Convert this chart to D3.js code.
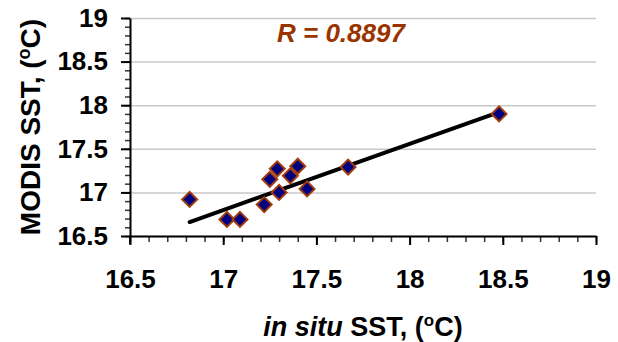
<!DOCTYPE html>
<html>
<head>
<meta charset="utf-8">
<script src="https://cdn.jsdelivr.net/npm/d3@7"></script>
<style>
  html, body { margin: 0; padding: 0; background: #fff; }
  svg { display: block; font-family: "Liberation Sans", Arial, sans-serif; }
</style>
</head>
<body>
<svg id="chart" width="618" height="342"></svg>
<script>
// ---- data ----
const inSitu = [16.82, 17.02, 17.09, 17.22, 17.25, 17.29, 17.30, 17.36, 17.40, 17.45, 17.67, 18.48];
const modis  = [16.92, 16.69, 16.69, 16.86, 17.15, 17.27, 17.00, 17.19, 17.30, 17.04, 17.29, 17.90];
const trendX = [16.82, 18.48];
const trendY = [16.66, 17.92];
const tickLabels = [16.5, 17, 17.5, 18, 18.5, 19];
const rLabel = "R = 0.8897";
const xTitle = ["in situ", " SST, (", "o", "C)"];
const yTitle = ["MODIS SST, (", "o", "C)"];

// ---- layout ----
const svg = d3.select("#chart");
const pLeft = 130, pRight = 596, pTop = 18, pBottom = 236;
const x = d3.scaleLinear().domain([16.5, 19]).range([pLeft, pRight]);
const y = d3.scaleLinear().domain([16.5, 19]).range([pBottom, pTop]);
const minorVals = d3.range(0, 26).map(i => +(16.5 + i * 0.1).toFixed(1));
const fmt = d => String(d);

// gridlines
svg.append("g")
  .attr("transform", `translate(${pLeft},0)`)
  .call(d3.axisLeft(y).tickValues(tickLabels).tickSize(-(pRight - pLeft)).tickFormat(""))
  .call(g => g.select(".domain").remove())
  .call(g => g.selectAll("line").attr("stroke", "#c8c8c8").attr("stroke-width", 1.5));

// minor ticks
svg.append("g")
  .attr("transform", `translate(${pLeft},0)`)
  .call(d3.axisLeft(y).tickValues(minorVals).tickSize(5).tickFormat(""))
  .call(g => g.select(".domain").remove())
  .call(g => g.selectAll("line").attr("stroke", "#333").attr("stroke-width", 1.5));
svg.append("g")
  .attr("transform", `translate(0,${pBottom})`)
  .call(d3.axisBottom(x).tickValues(minorVals).tickSize(6).tickFormat(""))
  .call(g => g.select(".domain").remove())
  .call(g => g.selectAll("line").attr("stroke", "#333").attr("stroke-width", 1.5));

// major axes
const yAxis = svg.append("g")
  .attr("transform", `translate(${pLeft},0)`)
  .call(d3.axisLeft(y).tickValues(tickLabels).tickSize(9).tickSizeOuter(0).tickPadding(13).tickFormat(fmt));
const xAxis = svg.append("g")
  .attr("transform", `translate(0,${pBottom})`)
  .call(d3.axisBottom(x).tickValues(tickLabels).tickSize(9).tickSizeOuter(0).tickPadding(25).tickFormat(fmt));
[yAxis, xAxis].forEach(g => {
  g.select(".domain").attr("stroke", "#000").attr("stroke-width", 2);
  g.selectAll(".tick line").attr("stroke", "#000").attr("stroke-width", 2);
  g.selectAll(".tick text")
    .attr("fill", "#000")
    .style("font-size", "26px")
    .style("font-weight", "bold")
    .style("font-family", "'Liberation Sans', Arial, sans-serif");
});
// left axis extends below the x axis like the original
svg.append("line")
  .attr("x1", pLeft).attr("x2", pLeft)
  .attr("y1", pBottom).attr("y2", pBottom + 8)
  .attr("stroke", "#000").attr("stroke-width", 2);

// trend line
svg.append("line")
  .attr("x1", x(trendX[0])).attr("y1", y(trendY[0]))
  .attr("x2", x(trendX[1])).attr("y2", y(trendY[1]))
  .attr("stroke", "#000").attr("stroke-width", 4)
  .attr("stroke-linecap", "round");

// points
const sym = d3.symbol().type(d3.symbolSquare).size(112);
svg.append("g").selectAll("path")
  .data(inSitu.map((v, i) => [v, modis[i]]))
  .join("path")
  .attr("d", sym)
  .attr("transform", d => `translate(${x(d[0])},${y(d[1])}) rotate(45)`)
  .attr("fill", "#000080")
  .attr("stroke", "#a33c0c")
  .attr("stroke-width", 2);

// R label
svg.append("text")
  .attr("x", 277).attr("y", 42)
  .attr("fill", "#993300")
  .style("font-size", "26px")
  .style("font-weight", "bold")
  .style("font-style", "italic")
  .text(rLabel);

// x title
const xt = svg.append("text")
  .attr("x", (pLeft + pRight) / 2).attr("y", 336)
  .attr("text-anchor", "middle")
  .style("font-size", "27px")
  .style("font-weight", "bold");
xt.append("tspan").style("font-style", "italic").text(xTitle[0]);
xt.append("tspan").text(xTitle[1]);
xt.append("tspan").attr("dy", -10).style("font-size", "17px").text(xTitle[2]);
xt.append("tspan").attr("dy", 10).text(xTitle[3]);

// y title
const yt = svg.append("text")
  .attr("transform", `translate(40,${(pTop + pBottom) / 2}) rotate(-90)`)
  .attr("text-anchor", "middle")
  .style("font-size", "28px")
  .style("font-weight", "bold");
yt.append("tspan").text(yTitle[0]);
yt.append("tspan").attr("dy", -10).style("font-size", "18px").text(yTitle[1]);
yt.append("tspan").attr("dy", 10).text(yTitle[2]);
</script>
</body>
</html>
